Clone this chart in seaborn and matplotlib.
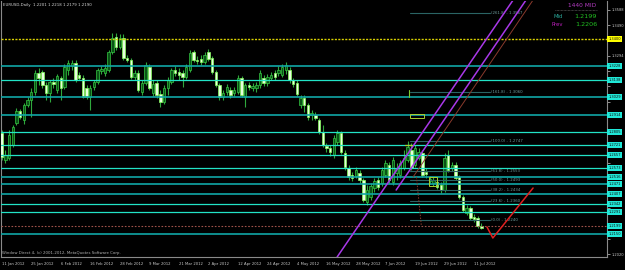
import numpy as np
import pandas as pd
import matplotlib
matplotlib.use("Agg")
import matplotlib.pyplot as plt
import seaborn as sns

# ---------------- data ----------------
title_text = "EURUSD,Daily  1.2201 1.2218 1.2179 1.2190"
footer_text = "Window Direct 4, (c) 2001-2012, MetaQuotes Software Corp."
date_labels = ["11 Jan 2012", "25 Jan 2012", "6 Feb 2012", "16 Feb 2012", "28 Feb 2012",
               "9 Mar 2012", "21 Mar 2012", "2 Apr 2012", "12 Apr 2012", "24 Apr 2012",
               "4 May 2012", "16 May 2012", "28 May 2012", "7 Jun 2012", "19 Jun 2012",
               "29 Jun 2012", "11 Jul 2012"]

opens = [1.2798, 1.2625, 1.2638, 1.2721, 1.2862, 1.2939, 1.2882, 1.2978, 1.3010, 1.3061,
         1.3183, 1.3190, 1.3106, 1.3055, 1.3126, 1.3074, 1.3151, 1.3093, 1.3203, 1.3228,
         1.3248, 1.3171, 1.3151, 1.3087, 1.3029, 1.3093, 1.3126, 1.3196, 1.3183, 1.3203,
         1.3318, 1.3414, 1.3350, 1.3408, 1.3280, 1.3267, 1.3158, 1.3183, 1.3061, 1.3119,
         1.3222, 1.3055, 1.3119, 1.3049, 1.2997, 1.3087, 1.3126, 1.3203, 1.3190, 1.3183,
         1.3158, 1.3203, 1.3318, 1.3267, 1.3273, 1.3254, 1.3318, 1.3280, 1.3190, 1.3106,
         1.3029, 1.3061, 1.3074, 1.3055, 1.3061, 1.3151, 1.3029, 1.3106, 1.3087, 1.3087,
         1.3106, 1.3151, 1.3119, 1.3151, 1.3183, 1.3183, 1.3171, 1.3203, 1.3203, 1.3138,
         1.3119, 1.2978, 1.3023, 1.2978, 1.2914, 1.2914, 1.2882, 1.2805, 1.2715, 1.2702,
         1.2657, 1.2740, 1.2798, 1.2670, 1.2573, 1.2529, 1.2522, 1.2541, 1.2496, 1.2355,
         1.2387, 1.2445, 1.2496, 1.2477, 1.2529, 1.2593, 1.2484, 1.2541, 1.2529, 1.2573,
         1.2625, 1.2689, 1.2593, 1.2638, 1.2670, 1.2548, 1.2490, 1.2477, 1.2484, 1.2464,
         1.2432, 1.2657, 1.2573, 1.2593, 1.2516, 1.2387, 1.2284, 1.2317, 1.2259, 1.2252,
         1.2201]
highs = [1.2817, 1.2689, 1.2817, 1.2850, 1.2959, 1.2952, 1.2991, 1.3029, 1.3087, 1.3203,
         1.3215, 1.3203, 1.3126, 1.3138, 1.3151, 1.3177, 1.3164, 1.3241, 1.3267, 1.3267,
         1.3267, 1.3190, 1.3171, 1.3106, 1.3106, 1.3138, 1.3215, 1.3228, 1.3241, 1.3331,
         1.3440, 1.3440, 1.3434, 1.3434, 1.3299, 1.3280, 1.3203, 1.3203, 1.3138, 1.3254,
         1.3241, 1.3138, 1.3138, 1.3074, 1.3106, 1.3158, 1.3215, 1.3228, 1.3215, 1.3203,
         1.3241, 1.3331, 1.3331, 1.3292, 1.3299, 1.3318, 1.3337, 1.3292, 1.3203, 1.3119,
         1.3074, 1.3113, 1.3093, 1.3093, 1.3171, 1.3164, 1.3119, 1.3126, 1.3119, 1.3126,
         1.3203, 1.3171, 1.3177, 1.3190, 1.3203, 1.3228, 1.3241, 1.3254, 1.3222, 1.3151,
         1.3138, 1.3042, 1.3042, 1.2991, 1.2946, 1.2933, 1.2894, 1.2850, 1.2734, 1.2721,
         1.2785, 1.2817, 1.2811, 1.2689, 1.2593, 1.2548, 1.2580, 1.2561, 1.2509, 1.2464,
         1.2477, 1.2509, 1.2516, 1.2580, 1.2625, 1.2612, 1.2644, 1.2606, 1.2625, 1.2689,
         1.2747, 1.2734, 1.2721, 1.2702, 1.2689, 1.2573, 1.2522, 1.2516, 1.2503, 1.2484,
         1.2670, 1.2689, 1.2612, 1.2612, 1.2529, 1.2400, 1.2336, 1.2330, 1.2278, 1.2265,
         1.2218]
lows = [1.2625, 1.2606, 1.2625, 1.2708, 1.2850, 1.2888, 1.2856, 1.2965, 1.2901, 1.3042,
        1.3106, 1.3087, 1.3010, 1.2997, 1.3087, 1.3055, 1.3010, 1.3081, 1.3171, 1.3203,
        1.3126, 1.3138, 1.3023, 1.3016, 1.2946, 1.3074, 1.3113, 1.3177, 1.3164, 1.3190,
        1.3305, 1.3331, 1.3337, 1.3267, 1.3254, 1.3145, 1.3138, 1.3061, 1.3042, 1.3106,
        1.3074, 1.3036, 1.3023, 1.2965, 1.2984, 1.3042, 1.3113, 1.3164, 1.3138, 1.3093,
        1.3145, 1.3190, 1.3254, 1.3241, 1.3235, 1.3241, 1.3260, 1.3177, 1.3093, 1.3010,
        1.3010, 1.3042, 1.3023, 1.3036, 1.3049, 1.3029, 1.2965, 1.3074, 1.3068, 1.3061,
        1.3087, 1.3100, 1.3100, 1.3138, 1.3138, 1.3164, 1.3158, 1.3177, 1.3119, 1.3093,
        1.3036, 1.2959, 1.2933, 1.2882, 1.2882, 1.2882, 1.2792, 1.2708, 1.2676, 1.2651,
        1.2638, 1.2721, 1.2663, 1.2561, 1.2496, 1.2490, 1.2509, 1.2477, 1.2355, 1.2336,
        1.2368, 1.2419, 1.2432, 1.2458, 1.2516, 1.2477, 1.2464, 1.2496, 1.2509, 1.2561,
        1.2612, 1.2561, 1.2580, 1.2625, 1.2516, 1.2509, 1.2471, 1.2458, 1.2439, 1.2413,
        1.2419, 1.2548, 1.2554, 1.2496, 1.2374, 1.2291, 1.2272, 1.2240, 1.2227, 1.2188,
        1.2179]
closes = [1.2644, 1.2657, 1.2785, 1.2837, 1.2939, 1.2901, 1.2978, 1.3010, 1.3061, 1.3183,
          1.3151, 1.3106, 1.3055, 1.3126, 1.3113, 1.3164, 1.3087, 1.3222, 1.3248, 1.3248,
          1.3138, 1.3151, 1.3029, 1.3029, 1.3087, 1.3126, 1.3203, 1.3209, 1.3215, 1.3318,
          1.3408, 1.3350, 1.3408, 1.3280, 1.3267, 1.3158, 1.3183, 1.3074, 1.3119, 1.3235,
          1.3087, 1.3113, 1.3042, 1.2997, 1.3087, 1.3138, 1.3203, 1.3183, 1.3171, 1.3158,
          1.3222, 1.3312, 1.3267, 1.3260, 1.3254, 1.3299, 1.3273, 1.3190, 1.3106, 1.3029,
          1.3055, 1.3093, 1.3042, 1.3074, 1.3151, 1.3042, 1.3106, 1.3093, 1.3100, 1.3106,
          1.3183, 1.3119, 1.3158, 1.3171, 1.3158, 1.3203, 1.3222, 1.3235, 1.3138, 1.3113,
          1.3049, 1.3023, 1.2978, 1.2901, 1.2927, 1.2894, 1.2805, 1.2721, 1.2702, 1.2676,
          1.2766, 1.2798, 1.2676, 1.2580, 1.2516, 1.2509, 1.2561, 1.2496, 1.2368, 1.2432,
          1.2458, 1.2490, 1.2452, 1.2561, 1.2606, 1.2496, 1.2625, 1.2573, 1.2606, 1.2638,
          1.2708, 1.2573, 1.2702, 1.2676, 1.2529, 1.2535, 1.2503, 1.2496, 1.2452, 1.2432,
          1.2638, 1.2561, 1.2593, 1.2509, 1.2387, 1.2304, 1.2317, 1.2252, 1.2246, 1.2201,
          1.2190]

price_ticks = [1.2020, 1.2118, 1.2216, 1.2314, 1.2412, 1.2510, 1.2608, 1.2706, 1.2804,
               1.2902, 1.3000, 1.3098, 1.3196, 1.3294, 1.3392, 1.3490, 1.3588]

level_prices = [1.3400, 1.3228, 1.3138, 1.3029, 1.2914, 1.2805, 1.2721, 1.2657, 1.2573,
                1.2516, 1.2471, 1.2407, 1.2342, 1.2291, 1.2199, 1.2150]
level_kind = ["yellow", "teal", "bright", "teal", "teal", "bright", "bright", "bright",
              "bright", "teal", "teal", "teal", "bright", "bright", "mid", "teal"]

fib_ratios = [0.0, 23.6, 38.2, 50.0, 61.8, 100.0, 161.8, 261.8]
fib_low, fib_high = 1.2240, 1.2747

mid_name = "1440 MID"
mid_value = 1.2199
prev_value = 1.2206

# chart objects (bar index, price)
channel_a = ([90.9, 138.6], [1.2002, 1.3652])
channel_b = ([106.9, 142.1], [1.2432, 1.3652])
median_c = ([111.5, 144.0], [1.2516, 1.3652])
handle_d = ([112.4, 113.7], [1.2516, 1.2208])
projection = ([131.5, 133.1, 144.0], [1.2195, 1.2124, 1.2445])

# ---------------- style ----------------
sns.set_theme(style="dark", rc={
    "axes.facecolor": "black", "figure.facecolor": "black",
    "axes.edgecolor": "#8a8a8a", "axes.linewidth": 0.8,
    "text.color": "#c8c8c8", "xtick.color": "#c8c8c8", "ytick.color": "#c8c8c8",
    "axes.grid": False})
plt.rcParams["font.family"] = ["DejaVu Sans"]

W, H = 625, 270
fig = plt.figure(figsize=(W / 100, H / 100), dpi=100)
ax = fig.add_axes([1 / W, 13 / H, 606 / W, 256.5 / H])


def bx(px):
    return (px - 1.7) / 3.69


def py(y):
    return 1.3652 - 0.000642 * y


ax.set_xlim(bx(1), bx(607))
ax.set_ylim(py(257), py(0.5))

df = pd.DataFrame({"bar": np.arange(len(opens)), "open": opens, "high": highs,
                   "low": lows, "close": closes})
df["bull"] = df["close"] >= df["open"]
df["bottom"] = df[["open", "close"]].min(axis=1)
df["height"] = (df["close"] - df["open"]).abs().clip(lower=0.00025)

ax.vlines(df["bar"], df["low"], df["high"], color="#2fa83c", lw=0.8, zorder=2)
bu = df[df["bull"]]
be = df[~df["bull"]]
ax.bar(bu["bar"], bu["height"], bottom=bu["bottom"], width=0.66, color="#0a5216",
       edgecolor="#35c843", linewidth=0.5, zorder=3)
ax.bar(be["bar"], be["height"], bottom=be["bottom"], width=0.66, color="#e6ffde",
       edgecolor="#86ff5a", linewidth=0.5, zorder=3)

# horizontal levels
kind_color = {"yellow": "#d8d000", "teal": "#10a6a6", "bright": "#22e3c6", "mid": "#a0524a"}
kind_style = {"yellow": (0, (1.5, 1)), "teal": "-", "bright": "-", "mid": (0, (1.5, 1.5))}
kind_lw = {"yellow": 1.0, "teal": 1.2, "bright": 0.9, "mid": 0.8}
for p, k in zip(level_prices, level_kind):
    ax.axhline(p, color=kind_color[k], lw=kind_lw[k], ls=kind_style[k], zorder=4)

# fibonacci
for r in fib_ratios:
    p = fib_low + r / 100 * (fib_high - fib_low)
    ax.plot([bx(410), bx(490)], [p, p], color="#2a6464", lw=0.8, zorder=4.5)
    ax.text(bx(491), p, f"({r:.1f}) - {p:.4f}", fontsize=2.8, color="#6f9c9c",
            ha="left", va="center", zorder=5)

# channel lines via seaborn
sns.lineplot(x=channel_a[0], y=channel_a[1], color="#a838e8", lw=1.1, ax=ax, zorder=5)
sns.lineplot(x=channel_b[0], y=channel_b[1], color="#a838e8", lw=1.1, ax=ax, zorder=5)
sns.lineplot(x=median_c[0], y=median_c[1], color="#8a3a2c", lw=0.7, ax=ax, zorder=5)
ax.plot(handle_d[0], handle_d[1], color="#8a3a2c", lw=0.7, ls=(0, (1.5, 1.5)), zorder=5)
sns.lineplot(x=projection[0], y=projection[1], color="#e02020", lw=1.1, ax=ax, zorder=5,
             sort=False)

# small marker objects
ax.add_patch(plt.Rectangle((bx(410), py(118)), bx(424) - bx(410), py(114) - py(118),
                           fill=False, ec="#a8d030", lw=0.7, zorder=5))
ax.add_patch(plt.Rectangle((bx(429), py(186)), bx(437) - bx(429), py(177) - py(186),
                           fill=False, ec="#a8d030", lw=0.7, zorder=5))
ax.plot([bx(405), bx(412)], [py(145), py(145)], color="#a8d030", lw=0.9, zorder=5)
ax.plot([bx(409), bx(409)], [py(90), py(97)], color="#7ccc30", lw=0.8, zorder=5)

# axes / ticks (hide grey labels that sit under a level box)
ax.yaxis.tick_right()
ax.set_yticks(price_ticks)
tick_text = []
for p in price_ticks:
    near = min(abs(p - q) for q in level_prices) < 0.0042
    tick_text.append("" if near else f"{p:.4f}")
ax.set_yticklabels(tick_text, fontsize=2.6)
ax.tick_params(axis="y", length=2, width=0.5, pad=1.5, colors="#c8c8c8")
ax.set_xticks(np.arange(0, 8 * len(date_labels), 8))
ax.set_xticklabels(date_labels, fontsize=2.7, ha="left")
ax.tick_params(axis="x", length=2, width=0.5, pad=1.8, colors="#c8c8c8")
ax.spines["top"].set_visible(False)

# price boxes on the axis
for p, k in zip(level_prices, level_kind):
    fc = "#ffff00" if k == "yellow" else "#20e8d8"
    ax.text(1.002, p, f"{p:.4f}", transform=ax.get_yaxis_transform(), fontsize=2.6,
            color="#101010", ha="left", va="center", clip_on=False, zorder=8,
            bbox=dict(boxstyle="square,pad=0.32", fc=fc, ec="none"))

# texts
ax.text(bx(3), py(5), title_text, fontsize=2.8, color="#d8d8d8", ha="left", va="center",
        zorder=7)
ax.text(bx(2), py(253), footer_text, fontsize=2.8, color="#b0b0b0", ha="left",
        va="center", zorder=7)
ax.text(bx(596), py(5.3), mid_name, fontsize=4.2, color="#b23cc0", ha="right",
        va="center", zorder=7)
ax.plot([bx(555), bx(597)], [py(9.5), py(9.5)], color="#707070", lw=0.5,
        ls=(0, (1, 1)), zorder=7)
ax.text(bx(554), py(16.3), "Mid", fontsize=3.8, color="#2aa89a", ha="left", va="center",
        zorder=7)
ax.text(bx(597), py(16.3), f"{mid_value:.4f}", fontsize=4.6, color="#22c022",
        ha="right", va="center", zorder=7)
ax.text(bx(552), py(24), "Prev", fontsize=3.8, color="#c020c0", ha="left", va="center",
        zorder=7)
ax.text(bx(597), py(24), f"{prev_value:.4f}", fontsize=4.6, color="#22c022",
        ha="right", va="center", zorder=7)

fig.savefig("out.png", dpi=100, facecolor="black")
